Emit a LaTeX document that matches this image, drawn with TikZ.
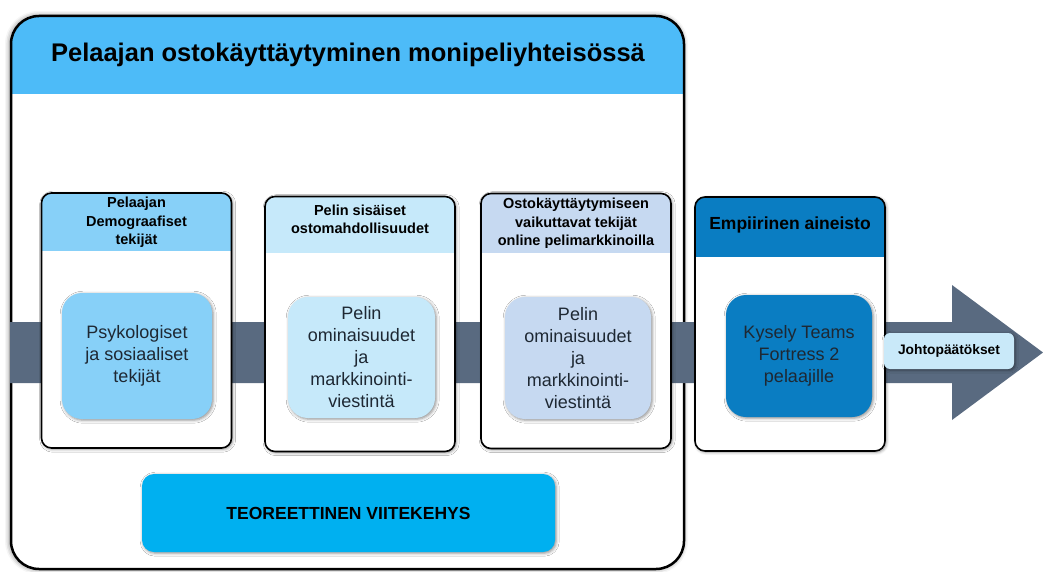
\documentclass[tikz,border=0pt]{standalone}
\usepackage{fontspec}
\setmainfont{Liberation Sans}
\usetikzlibrary{shadows.blur}
\definecolor{titleblue}{HTML}{4DBBF8}
\definecolor{skyA}{HTML}{87D0F8}
\definecolor{paleB}{HTML}{C6E9FA}
\definecolor{steelC}{HTML}{C6D9F1}
\definecolor{deepD}{HTML}{0A7DC2}
\definecolor{theoryblue}{HTML}{00B0F0}
\definecolor{conclblue}{HTML}{C9E9F9}
\definecolor{bandgray}{HTML}{596A80}
\definecolor{innertext}{HTML}{1E2833}
\tikzset{
  softshadow/.style={blur shadow={shadow xshift=1.2pt, shadow yshift=-1.2pt, shadow blur radius=3pt, shadow opacity=45}},
  outerframe/.style={draw=black, line width=2.5pt, fill=white, rounded corners=28pt,
    minimum width=673pt, minimum height=553pt, inner sep=0pt,
    blur shadow={shadow xshift=-1pt, shadow yshift=0pt, shadow blur radius=5pt, shadow opacity=55},
    path picture={\fill[titleblue, sharp corners] (path picture bounding box.north west) rectangle ([yshift=-78pt]path picture bounding box.north east);}},
  stagebox/.style 2 args={draw=black, line width=1.6pt, fill=white, rounded corners=10pt,
    minimum width=190pt, minimum height=255pt, inner sep=0pt, softshadow,
    path picture={\fill[#1, sharp corners] (path picture bounding box.north west) rectangle ([yshift=-#2]path picture bounding box.north east);}},
  hdrtext/.style={font=\bfseries\fontsize{14.5}{18.5}\selectfont, align=center, text=black, inner sep=0pt},
  innerbox/.style={fill=#1, rounded corners=20pt, minimum width=147pt, minimum height=122pt,
    inner sep=0pt, align=center, text=innertext, font=\fontsize{18}{22}\selectfont, softshadow},
}
\begin{document}
\begin{tikzpicture}[x=1pt,y=-1pt]
\useasboundingbox (0,0) rectangle (1043,572);
% outer frame with title band
\node[outerframe] (frame) at (347.5,292.5) {};
\node[font=\bfseries\fontsize{25.5}{30}\selectfont, inner sep=0pt] (title) at (348,55) {Pelaajan ostokäyttäytyminen monipeliyhteisössä};
% process band / arrow
\fill[bandgray] (10,322) -- (952,322) -- (952,285) -- (1043,352.5) -- (952,420) -- (952,383) -- (10,383) -- cycle;
% stage boxes
\node[stagebox={skyA}{58pt}] (s1) at (136.5,320.5) {};
\node[stagebox={paleB}{56pt}] (s2) at (360,324) {};
\node[stagebox={steelC}{59pt}] (s3) at (576,321) {};
\node[stagebox={deepD}{60pt}, minimum height=254pt] (s4) at (790,324) {};
% headers
\node[hdrtext] (h1) at (136.5,222.5) {Pelaajan\\Demograafiset\\tekijät};
\node[hdrtext] (h2) at (360,219.5) {Pelin sisäiset\\ostomahdollisuudet};
\node[hdrtext] (h3) at (576,223.5) {Ostokäyttäytymiseen\\vaikuttavat tekijät\\online pelimarkkinoilla};
\node[hdrtext, font=\bfseries\fontsize{17.5}{21}\selectfont] (h4) at (790,225) {Empiirinen aineisto};
% inner boxes
\node[innerbox=skyA, minimum width=150pt, minimum height=126pt] (i1) at (137,356) {Psykologiset\\ja sosiaaliset\\tekijät};
\node[innerbox=paleB, minimum height=121pt] (i2) at (361.5,357.5) {Pelin\\ominaisuudet\\ja\\markkinointi-\\viestintä};
\node[innerbox=steelC, minimum width=146pt] (i3) at (578,358) {Pelin\\ominaisuudet\\ja\\markkinointi-\\viestintä};
\node[innerbox=deepD, minimum width=146pt] (i4) at (799,356) {Kysely Teams\\Fortress 2\\pelaajille};
% conclusions
\node[fill=conclblue, rounded corners=6pt, minimum width=130pt, minimum height=36pt, inner sep=0pt,
  font=\bfseries\fontsize{13.8}{16}\selectfont, softshadow] (concl) at (949,351) {Johtopäätökset};
% theory
\node[fill=theoryblue, rounded corners=12pt, minimum width=413pt, minimum height=78pt, inner sep=0pt,
  font=\bfseries\fontsize{17.5}{21}\selectfont, softshadow] (theory) at (348.5,513) {TEOREETTINEN VIITEKEHYS};
\end{tikzpicture}
\end{document}
